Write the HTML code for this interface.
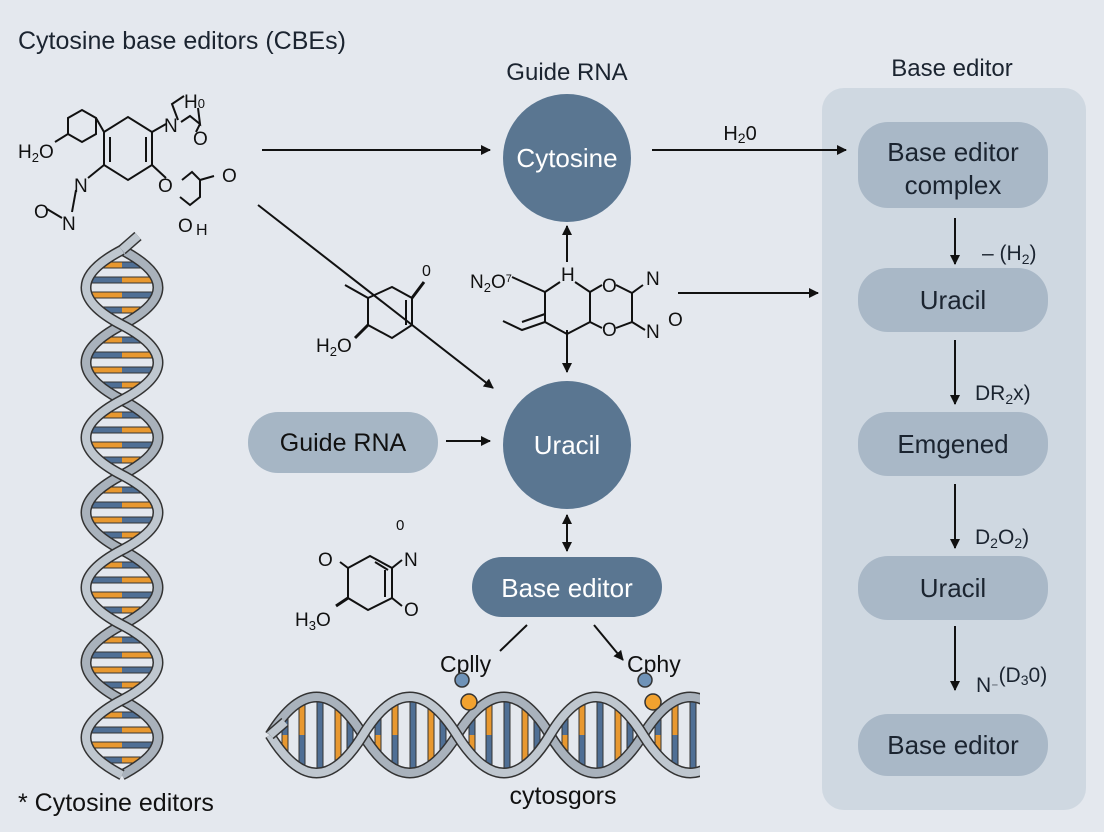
<!DOCTYPE html>
<html><head><meta charset="utf-8"><style>
html,body{margin:0;padding:0;background:#e4e8ee;}
svg{display:block;font-family:"Liberation Sans",sans-serif;}
</style></head><body>
<svg width="1104" height="832" viewBox="0 0 1104 832" xmlns="http://www.w3.org/2000/svg">
<defs>
<marker id="ar" markerWidth="10" markerHeight="10" refX="9" refY="5" orient="auto" markerUnits="userSpaceOnUse"><path d="M0,0 L10,5 L0,10 z" fill="#111"/></marker>
<marker id="al" markerWidth="10" markerHeight="10" refX="1" refY="5" orient="auto" markerUnits="userSpaceOnUse"><path d="M10,0 L0,5 L10,10 z" fill="#111"/></marker>
<g id="vl">
<line x1="101" y1="15" x2="122" y2="15" stroke="#333" stroke-width="7"/><line x1="101" y1="15" x2="122" y2="15" stroke="#e8982f" stroke-width="5"/><line x1="122" y1="15" x2="143" y2="15" stroke="#333" stroke-width="7"/><line x1="122" y1="15" x2="143" y2="15" stroke="#4f6f95" stroke-width="5"/>
<line x1="88" y1="30" x2="122" y2="30" stroke="#333" stroke-width="7"/><line x1="88" y1="30" x2="122" y2="30" stroke="#4f6f95" stroke-width="5"/><line x1="122" y1="30" x2="156" y2="30" stroke="#333" stroke-width="7"/><line x1="122" y1="30" x2="156" y2="30" stroke="#e8982f" stroke-width="5"/>
<line x1="88" y1="45" x2="122" y2="45" stroke="#333" stroke-width="7"/><line x1="88" y1="45" x2="122" y2="45" stroke="#e8982f" stroke-width="5"/><line x1="122" y1="45" x2="156" y2="45" stroke="#333" stroke-width="7"/><line x1="122" y1="45" x2="156" y2="45" stroke="#4f6f95" stroke-width="5"/>
<line x1="101" y1="60" x2="122" y2="60" stroke="#333" stroke-width="7"/><line x1="101" y1="60" x2="122" y2="60" stroke="#4f6f95" stroke-width="5"/><line x1="122" y1="60" x2="143" y2="60" stroke="#333" stroke-width="7"/><line x1="122" y1="60" x2="143" y2="60" stroke="#e8982f" stroke-width="5"/>
</g>
<g id="hl">
<line x1="15" y1="717" x2="15" y2="735" stroke="#333" stroke-width="7"/><line x1="15" y1="717" x2="15" y2="735" stroke="#4f6f95" stroke-width="5"/><line x1="15" y1="735" x2="15" y2="753" stroke="#333" stroke-width="7"/><line x1="15" y1="735" x2="15" y2="753" stroke="#e8982f" stroke-width="5"/>
<line x1="32" y1="702" x2="32" y2="735" stroke="#333" stroke-width="7"/><line x1="32" y1="702" x2="32" y2="735" stroke="#e8982f" stroke-width="5"/><line x1="32" y1="735" x2="32" y2="768" stroke="#333" stroke-width="7"/><line x1="32" y1="735" x2="32" y2="768" stroke="#4f6f95" stroke-width="5"/>
<line x1="50" y1="698" x2="50" y2="735" stroke="#333" stroke-width="7"/><line x1="50" y1="698" x2="50" y2="735" stroke="#4f6f95" stroke-width="5"/><line x1="50" y1="735" x2="50" y2="772" stroke="#333" stroke-width="7"/><line x1="50" y1="735" x2="50" y2="772" stroke="#4f6f95" stroke-width="5"/>
<line x1="68" y1="706" x2="68" y2="735" stroke="#333" stroke-width="7"/><line x1="68" y1="706" x2="68" y2="735" stroke="#e8982f" stroke-width="5"/><line x1="68" y1="735" x2="68" y2="764" stroke="#333" stroke-width="7"/><line x1="68" y1="735" x2="68" y2="764" stroke="#e8982f" stroke-width="5"/>
<line x1="80" y1="720" x2="80" y2="750" stroke="#333" stroke-width="7"/><line x1="80" y1="720" x2="80" y2="750" stroke="#4f6f95" stroke-width="5"/>
</g>
<clipPath id="hc"><rect x="260" y="680" width="440" height="110"/></clipPath>
</defs>

<text x="18" y="49" font-size="25" fill="#1b2430">Cytosine base editors (CBEs)</text>
<text x="567" y="80" font-size="24" fill="#1b2430" text-anchor="middle">Guide RNA</text>
<text x="952" y="76" font-size="24" fill="#1b2430" text-anchor="middle">Base editor</text>

<!-- right panel -->
<rect x="822" y="88" width="264" height="722" rx="22" fill="#cfd8e1"/>
<rect x="858" y="122" width="190" height="86" rx="30" fill="#a9b8c7"/>
<text x="953" y="161" font-size="26" fill="#1b2430" text-anchor="middle">Base editor</text>
<text x="953" y="194" font-size="26" fill="#1b2430" text-anchor="middle">complex</text>
<rect x="858" y="268" width="190" height="64" rx="30" fill="#a9b8c7"/>
<text x="953" y="309" font-size="26" fill="#1b2430" text-anchor="middle">Uracil</text>
<rect x="858" y="412" width="190" height="64" rx="30" fill="#a9b8c7"/>
<text x="953" y="453" font-size="26" fill="#1b2430" text-anchor="middle">Emgened</text>
<rect x="858" y="556" width="190" height="64" rx="30" fill="#a9b8c7"/>
<text x="953" y="597" font-size="26" fill="#1b2430" text-anchor="middle">Uracil</text>
<rect x="858" y="714" width="190" height="62" rx="30" fill="#a9b8c7"/>
<text x="953" y="754" font-size="26" fill="#1b2430" text-anchor="middle">Base editor</text>
<g stroke="#111" stroke-width="2" marker-end="url(#ar)">
<line x1="955" y1="218" x2="955" y2="264"/>
<line x1="955" y1="340" x2="955" y2="404"/>
<line x1="955" y1="484" x2="955" y2="548"/>
<line x1="955" y1="626" x2="955" y2="690"/>
</g>
<g font-size="21" fill="#1b2430">
<text x="982" y="260">– (H<tspan font-size="14" dy="4">2</tspan><tspan dy="-4">)</tspan></text>
<text x="975" y="400">DR<tspan font-size="14" dy="4">2</tspan><tspan dy="-4">x)</tspan></text>
<text x="975" y="544">D<tspan font-size="14" dy="4">2</tspan><tspan dy="-4">O</tspan><tspan font-size="14" dy="4">2</tspan><tspan dy="-4">)</tspan></text>
<text x="976" y="692">N<tspan font-size="14">⁻</tspan><tspan dy="-10">(D</tspan><tspan font-size="14" dy="3">3</tspan><tspan dy="-3">0)</tspan></text>
</g>

<!-- circles -->
<circle cx="567" cy="158" r="64" fill="#5a7691"/>
<text x="567" y="167" font-size="26" fill="#fff" text-anchor="middle">Cytosine</text>
<circle cx="567" cy="445" r="64" fill="#5a7691"/>
<text x="567" y="454" font-size="26" fill="#fff" text-anchor="middle">Uracil</text>
<rect x="248" y="412" width="190" height="61" rx="30" fill="#a6b6c5"/>
<text x="343" y="451" font-size="25" fill="#111" text-anchor="middle">Guide RNA</text>
<rect x="472" y="557" width="190" height="60" rx="30" fill="#5a7691"/>
<text x="567" y="597" font-size="26" fill="#fff" text-anchor="middle">Base editor</text>

<!-- arrows -->
<g stroke="#111" stroke-width="2" fill="none">
<line x1="262" y1="150" x2="490" y2="150" marker-end="url(#ar)"/>
<line x1="652" y1="150" x2="846" y2="150" marker-end="url(#ar)"/>
<line x1="258" y1="205" x2="493" y2="388" marker-end="url(#ar)"/>
<line x1="678" y1="293" x2="818" y2="293" marker-end="url(#ar)"/>
<line x1="446" y1="441" x2="490" y2="441" marker-end="url(#ar)"/>
<line x1="567" y1="226" x2="567" y2="262" marker-start="url(#al)"/>
<line x1="567" y1="330" x2="567" y2="372" marker-end="url(#ar)"/>
<line x1="567" y1="515" x2="567" y2="551" marker-start="url(#al)" marker-end="url(#ar)"/>
<line x1="527" y1="625" x2="500" y2="651"/>
<line x1="594" y1="625" x2="623" y2="660" marker-end="url(#ar)"/>
</g>
<text x="740" y="140" font-size="20" fill="#111" text-anchor="middle">H<tspan font-size="14" dy="3">2</tspan><tspan dy="-3">0</tspan></text>
<text x="440" y="672" font-size="23" fill="#111">Cplly</text>
<text x="627" y="672" font-size="23" fill="#111">Cphy</text>
<text x="563" y="804" font-size="25" fill="#111" text-anchor="middle">cytosgors</text>
<text x="18" y="811" font-size="25" fill="#111">* Cytosine editors</text>

<!-- molecule top-left -->
<g stroke="#111" stroke-width="2" fill="none">
<path d="M55,142 L68,134 L68,118 L82,110 L96,118 L96,134 L82,142 L68,134"/>
<path d="M96,118 L104,132 L104,165 L128,180 L152,165 L152,132 L128,117 L104,132"/>
<line x1="110" y1="137" x2="110" y2="162"/><line x1="146" y1="137" x2="146" y2="162"/>
<line x1="152" y1="132" x2="166" y2="124"/><line x1="104" y1="165" x2="88" y2="178"/>
<path d="M181,122 L190,116 L200,124 L198,108 M200,124 L196,132"/>
<path d="M178,120 L172,104 L184,96"/>
<line x1="152" y1="165" x2="166" y2="178"/>
<path d="M182,180 L192,172 L200,180 L200,197 L190,205 L180,197 M200,180 L214,176"/>
<line x1="76" y1="190" x2="72" y2="212"/><line x1="47" y1="209" x2="62" y2="218"/>
</g>
<g font-size="19" fill="#111">
<text x="18" y="158">H<tspan font-size="13" dy="4">2</tspan><tspan dy="-4">O</tspan></text>
<text x="164" y="132">N</text><text x="184" y="108">H<tspan font-size="13">0</tspan></text><text x="193" y="145">O</text>
<text x="74" y="192">N</text><text x="34" y="218">O</text><text x="62" y="230">N</text>
<text x="158" y="192">O</text><text x="222" y="182">O</text><text x="178" y="232">O</text><text x="196" y="235" font-size="16">H</text>
</g>

<!-- molecule middle-left -->
<g stroke="#111" stroke-width="2" fill="none">
<path d="M345,285 L368,298 L368,325 L392,338 L412,325 L412,298 L392,287 L368,298"/>
<line x1="406" y1="300" x2="406" y2="325"/>
<line x1="412" y1="298" x2="424" y2="282" stroke-width="3"/>
<line x1="368" y1="325" x2="355" y2="338" stroke-width="3"/>
</g>
<text x="422" y="276" font-size="16" fill="#111">0</text>
<text x="316" y="352" font-size="19" fill="#111">H<tspan font-size="13" dy="4">2</tspan><tspan dy="-4">O</tspan></text>

<!-- molecule center -->
<g stroke="#111" stroke-width="2" fill="none">
<path d="M512,277 L545,292 L545,322 L567,334 L590,322 L590,292 L575,282 M560,282 L545,292"/>
<path d="M503,321 L522,330 L545,322"/><line x1="522" y1="322" x2="545" y2="314"/>
<path d="M590,292 L602,285 M590,322 L602,328 M616,285 L632,293 L632,322 L616,328 M632,293 L643,285 M632,322 L645,330"/>
</g>
<g font-size="19" fill="#111">
<text x="470" y="288">N<tspan font-size="13" dy="4">2</tspan><tspan dy="-4">O</tspan><tspan font-size="11" dy="-6">7</tspan></text>
<text x="561" y="281">H</text><text x="602" y="292">O</text><text x="602" y="336">O</text>
<text x="646" y="285">N</text><text x="646" y="338">N</text><text x="668" y="326">O</text>
</g>

<!-- molecule bottom-left -->
<g stroke="#111" stroke-width="2" fill="none">
<path d="M348,568 L348,598 L368,610 L392,598 L392,568 L370,556 L348,568"/>
<line x1="385" y1="570" x2="385" y2="597"/><line x1="375" y1="562" x2="388" y2="570"/>
<line x1="348" y1="568" x2="340" y2="562"/><line x1="392" y1="568" x2="402" y2="560"/>
<line x1="392" y1="598" x2="402" y2="606"/><line x1="348" y1="598" x2="336" y2="606" stroke-width="3"/>
</g>
<g font-size="19" fill="#111">
<text x="396" y="530" font-size="15">0</text><text x="318" y="566">O</text><text x="404" y="566">N</text>
<text x="404" y="616">O</text><text x="295" y="626">H<tspan font-size="13" dy="4">3</tspan><tspan dy="-4">O</tspan></text>
</g>

<!-- vertical DNA -->
<g>
<use href="#vl" y="250"/><use href="#vl" y="325"/><use href="#vl" y="400"/><use href="#vl" y="475"/><use href="#vl" y="550"/><use href="#vl" y="625"/><use href="#vl" y="700"/>
<path d="M122,250 Q194,287.5 122,325 T122,400 T122,475 T122,550 T122,625 T122,700 T122,775" stroke="#333" stroke-width="11" fill="none"/>
<path d="M122,250 Q194,287.5 122,325 T122,400 T122,475 T122,550 T122,625 T122,700 T122,775" stroke="#a9b2bc" stroke-width="8" fill="none"/>
<path d="M122,250 Q50,287.5 122,325 T122,400 T122,475 T122,550 T122,625 T122,700 T122,775" stroke="#333" stroke-width="11" fill="none"/>
<path d="M122,250 Q50,287.5 122,325 T122,400 T122,475 T122,550 T122,625 T122,700 T122,775" stroke="#bfc7cf" stroke-width="8" fill="none"/>
<line x1="122" y1="250" x2="138" y2="236" stroke="#333" stroke-width="11"/><line x1="122" y1="250" x2="138" y2="236" stroke="#bfc7cf" stroke-width="8"/>
</g>

<!-- horizontal DNA -->
<g clip-path="url(#hc)">
<use href="#hl" x="270"/><use href="#hl" x="363"/><use href="#hl" x="457"/><use href="#hl" x="550"/><use href="#hl" x="643"/>
<path d="M270,735 Q316.5,659 363,735 T457,735 T550,735 T643,735 T737,735" stroke="#333" stroke-width="11" fill="none"/>
<path d="M270,735 Q316.5,659 363,735 T457,735 T550,735 T643,735 T737,735" stroke="#a9b2bc" stroke-width="8" fill="none"/>
<path d="M270,735 Q316.5,811 363,735 T457,735 T550,735 T643,735 T737,735" stroke="#333" stroke-width="11" fill="none"/>
<path d="M270,735 Q316.5,811 363,735 T457,735 T550,735 T643,735 T737,735" stroke="#bfc7cf" stroke-width="8" fill="none"/>
<line x1="270" y1="735" x2="285" y2="722" stroke="#333" stroke-width="11"/><line x1="270" y1="735" x2="285" y2="722" stroke="#bfc7cf" stroke-width="8"/>
</g>
<circle cx="462" cy="680" r="7" fill="#6f93b8" stroke="#333" stroke-width="1.5"/>
<circle cx="469" cy="702" r="8" fill="#f2a22f" stroke="#333" stroke-width="1.5"/>
<circle cx="645" cy="680" r="7" fill="#6f93b8" stroke="#333" stroke-width="1.5"/>
<circle cx="653" cy="702" r="8" fill="#f2a22f" stroke="#333" stroke-width="1.5"/>
</svg>
</body></html>
